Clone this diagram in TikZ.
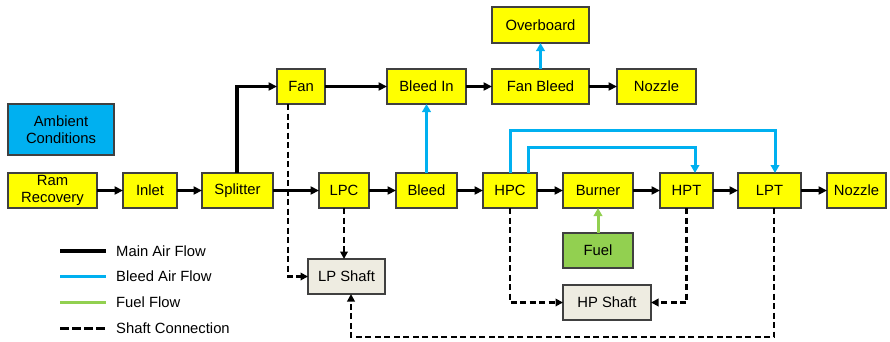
\documentclass[tikz,border=0pt]{standalone}
\usepackage{fontspec}
\setmainfont{Liberation Sans}
\usetikzlibrary{arrows.meta}
\definecolor{boxyellow}{HTML}{FFFF00}
\definecolor{ambblue}{HTML}{00B0F0}
\definecolor{bleedblue}{HTML}{00B0F0}
\definecolor{fuelgreen}{HTML}{92D050}
\definecolor{shafttan}{HTML}{EEECE1}
\definecolor{boxborder}{HTML}{404040}
\tikzset{
  blk/.style={draw=boxborder, line width=1.3pt, inner sep=0pt, outer sep=0pt, align=center,
    font=\fontsize{14.8}{17}\selectfont},
  ybox/.style={blk, fill=boxyellow},
  mainflow/.style={line width=3.3pt, -{Triangle[length=8.5pt,width=8pt]}},
  bleedflow/.style={draw=bleedblue, line width=3pt, -{Triangle[length=8pt,width=8.5pt]}, bleedblue},
  fuelflow/.style={draw=fuelgreen, line width=3pt, -{Triangle[length=8pt,width=8.5pt]}, fuelgreen},
  shaftflow/.style={line width=2.7pt, dash pattern=on 6pt off 3.5pt, -{Triangle[length=7.5pt,width=7.5pt]}},
  legtext/.style={anchor=west, inner sep=0pt, font=\fontsize{14.8}{17}\selectfont}
}
\begin{document}
\begin{tikzpicture}[x=1pt,y=-1pt]
\useasboundingbox (0,0) rectangle (890,341);
% nodes
\node[blk, fill=ambblue, minimum width=106, minimum height=51] (amb) at (61,129.5) {Ambient\\Conditions};
\node[ybox, minimum width=89, minimum height=35] (ram) at (52.5,190.5) {Ram\\Recovery};
\node[ybox, minimum width=54, minimum height=35] (inlet) at (150,190.5) {Inlet};
\node[ybox, minimum width=71, minimum height=35] (split) at (237.5,190.5) {Splitter};
\node[ybox, minimum width=50, minimum height=35] (lpc) at (344,190.5) {LPC};
\node[ybox, minimum width=61, minimum height=35] (bleed) at (426.5,190.5) {Bleed};
\node[ybox, minimum width=54, minimum height=35] (hpc) at (510,190.5) {HPC};
\node[ybox, minimum width=70, minimum height=35] (burner) at (598,190.5) {Burner};
\node[ybox, minimum width=53, minimum height=35] (hpt) at (686.5,190.5) {HPT};
\node[ybox, minimum width=63, minimum height=35] (lpt) at (769.5,190.5) {LPT};
\node[ybox, minimum width=59, minimum height=35] (noz2) at (856.5,190.5) {Nozzle};
\node[ybox, minimum width=48, minimum height=35] (fan) at (301,86.5) {Fan};
\node[ybox, minimum width=79, minimum height=35] (bleedin) at (426.5,86.5) {Bleed In};
\node[ybox, minimum width=97, minimum height=35] (fanbleed) at (540.5,86.5) {Fan Bleed};
\node[ybox, minimum width=79, minimum height=35] (noz1) at (656.5,86.5) {Nozzle};
\node[ybox, minimum width=97, minimum height=36] (over) at (540.5,25) {Overboard};
\node[blk, fill=fuelgreen, minimum width=70, minimum height=35] (fuel) at (598,250.5) {Fuel};
\node[blk, fill=shafttan, minimum width=77, minimum height=35] (lps) at (346.5,276.5) {LP Shaft};
\node[blk, fill=shafttan, minimum width=88, minimum height=35] (hps) at (607,302.5) {HP Shaft};
% main air flow
\draw[mainflow] (ram) -- (inlet);
\draw[mainflow] (inlet) -- (split);
\draw[mainflow] (split) -- (lpc);
\draw[mainflow] (lpc) -- (bleed);
\draw[mainflow] (bleed) -- (hpc);
\draw[mainflow] (hpc) -- (burner);
\draw[mainflow] (burner) -- (hpt);
\draw[mainflow] (hpt) -- (lpt);
\draw[mainflow] (lpt) -- (noz2);
\draw[mainflow] ([xshift=-0.5]split.north) |- (fan.west);
\draw[mainflow] (fan) -- (bleedin);
\draw[mainflow] (bleedin) -- (fanbleed);
\draw[mainflow] (fanbleed) -- (noz1);
% bleed air
\draw[bleedflow] (fanbleed) -- (over);
\draw[bleedflow] (bleed) -- (bleedin);
\draw[bleedflow] (hpc.north) -- ++(0,-43) -| ([xshift=5.5]lpt.north);
\draw[bleedflow] ([xshift=18]hpc.north) -- ++(0,-26) -| ([xshift=8.5]hpt.north);
% fuel
\draw[fuelflow] (fuel) -- (burner);
% shafts
\draw[shaftflow] ([xshift=-13]fan.south) |- (lps.west);
\draw[shaftflow] (lpc.south) -- (lpc.south |- lps.north);
\draw[shaftflow] ([xshift=4.5]lpt.south) -- ++(0,129) -| ([xshift=4.5]lps.south);
\draw[shaftflow] (hpc.south) |- (hps.west);
\draw[shaftflow] (hpt.south) |- (hps.east);
% legend
\coordinate (l1a) at (60,251); \coordinate (l1b) at (106,251);
\coordinate (l2a) at (60,276); \coordinate (l2b) at (106,276);
\coordinate (l3a) at (60,302); \coordinate (l3b) at (106,302);
\coordinate (l4a) at (60,328); \coordinate (l4b) at (106,328);
\draw[line width=4pt] (l1a) -- (l1b);
\draw[line width=3pt, bleedblue] (l2a) -- (l2b);
\draw[line width=3pt, fuelgreen] (l3a) -- (l3b);
\draw[line width=3pt, dash pattern=on 9pt off 3pt] (l4a) -- (l4b);
\node[legtext] (t1) at (116,251) {Main Air Flow};
\node[legtext] (t2) at (116,276) {Bleed Air Flow};
\node[legtext] (t3) at (116,302) {Fuel Flow};
\node[legtext] (t4) at (116,328) {Shaft Connection};
\end{tikzpicture}
\end{document}
